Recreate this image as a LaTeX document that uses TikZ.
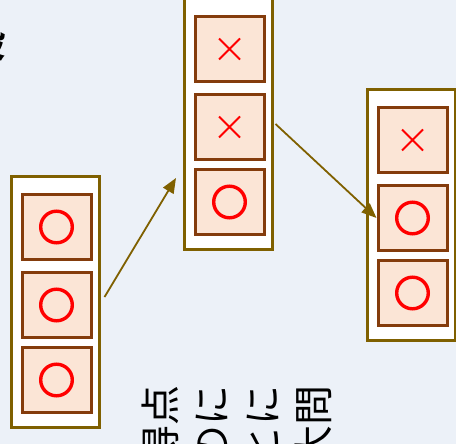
\documentclass[tikz,border=0pt]{standalone}
\usepackage{fontspec}
\newfontfamily\jpfont{Noto Sans CJK JP}
\usepackage{tikz}
\usetikzlibrary{calc, arrows.meta}
\definecolor{framegold}{RGB}{127,96,0}
\definecolor{cellbrown}{RGB}{132,60,12}
\definecolor{cellpeach}{RGB}{251,229,214}
\definecolor{paperblue}{RGB}{236,241,248}

\tikzset{
  colbox/.style={draw=framegold, line width=3pt, fill=white, minimum width=88pt, minimum height=250pt, inner sep=0pt},
  cellbox/.style={draw=cellbrown, line width=3pt, fill=cellpeach, minimum width=69pt, minimum height=65pt, inner sep=0pt},
  okcell/.style={cellbox, path picture={\draw[red, line width=3.4pt] (path picture bounding box.center) circle (15.8pt);}},
  ngcell/.style={cellbox, path picture={
      \draw[red, line width=1.8pt] ($(path picture bounding box.center)+(-10.5pt,-10.5pt)$) -- +(21pt,21pt)
        ($(path picture bounding box.center)+(-10.5pt,10.5pt)$) -- +(21pt,-21pt);}},
  flow/.style={draw=framegold, line width=1.8pt, -{Triangle[length=15pt, width=12pt]}},
  notetext/.style={rotate=90, anchor=base east, inner sep=0pt, font=\jpfont\fontsize{40}{40}\selectfont}
}

\begin{document}
\begin{tikzpicture}[x=1pt, y=-1pt]
  \useasboundingbox (0,0) rectangle (456,444);
  \clip (0,0) rectangle (456,444);
  \fill[paperblue] (0,0) rectangle (456,444);
  \node[inner sep=0pt, font=\jpfont\bfseries\fontsize{38}{38}\selectfont] (title) at (-13,43) {段};
  \foreach \n/\x/\y/\p/\q/\r in {colA/55/302/okcell/okcell/okcell, colB/228/124/ngcell/ngcell/okcell, colC/411/215/ngcell/okcell/okcell}{
    \node[colbox] (\n) at (\x,\y) {};
    \node[\p] (\n-1) at ($(\n)+(1.5,-75)$) {};
    \node[\q] (\n-2) at ($(\n)+(1.5,3)$) {};
    \node[\r] (\n-3) at ($(\n)+(1.5,78)$) {};
  }
  \coordinate (tipB) at (176,178);
  \draw[flow] ([xshift=4pt,yshift=5pt]colA.east) -- (tipB);
  \draw[flow] ([xshift=2pt]colB.east) -- (colC-2.west);
  \foreach \t [count=\i] in {得点,のに,とに,大問}
    \node[notetext] (note\i) at ({124+51*\i}, 385) {\t};
\end{tikzpicture}
\end{document}
